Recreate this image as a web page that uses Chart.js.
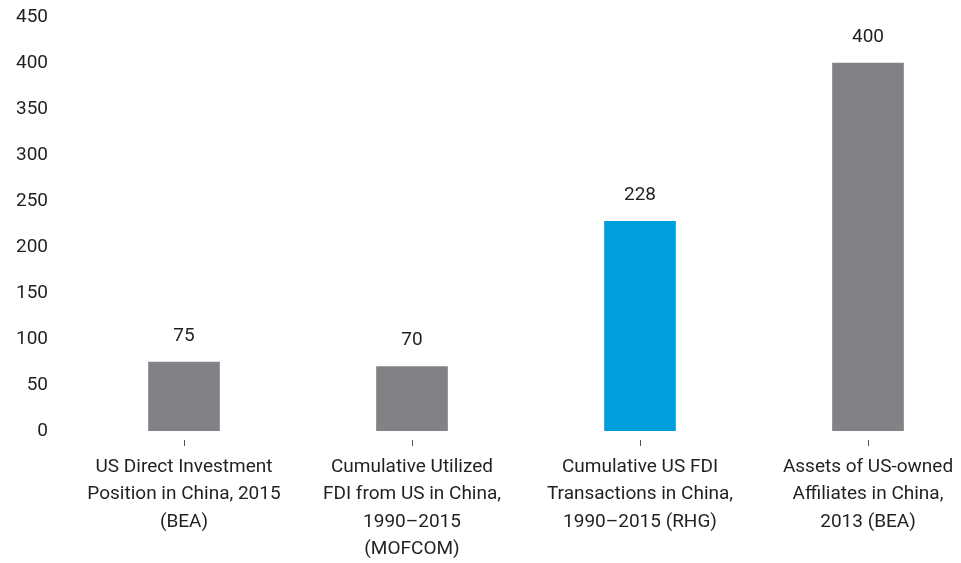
<!DOCTYPE html>
<html>
<head>
<meta charset="utf-8">
<script src="https://cdn.jsdelivr.net/npm/chart.js@4/dist/chart.umd.min.js"></script>
<style>
  html, body { margin: 0; padding: 0; background: #fff; overflow: hidden; }
  #wrap { width: 982px; height: 563px; }
</style>
</head>
<body>
<div id="wrap"><canvas id="fdiChart"></canvas></div>
<script>
// categories (multi-line labels)
const categories = [
    ["US Direct Investment", "Position in China, 2015", "(BEA)"],
    ["Cumulative Utilized", "FDI from US in China,", "1990\u20132015", "(MOFCOM)"],
    ["Cumulative US FDI", "Transactions in China,", "1990\u20132015 (RHG)"],
    ["Assets of US-owned", "Affiliates in China,", "2013 (BEA)"]
];

// values, USD billion
const values = [75, 70, 228, 400];

// y axis ticks
const yMin = 0;
const yMax = 450;
const yStep = 50;

const GRAY = "#828286";
const BLUE = "#009fdb";
const TEXT = "#231f20";
const FONT = "Roboto";

// value labels above bars
const valueLabels = {
    id: "valueLabels",
    afterDatasetsDraw(chart) {
        const ctx = chart.ctx;
        const meta = chart.getDatasetMeta(0);
        ctx.save();
        ctx.font = "19px " + FONT;
        ctx.fillStyle = TEXT;
        ctx.textAlign = "center";
        ctx.textBaseline = "middle";
        meta.data.forEach((bar, i) => {
            ctx.fillText(String(values[i]), bar.x, bar.y - 26);
        });
        ctx.restore();
    }
};

new Chart(document.getElementById("fdiChart"), {

    type: "bar",

    data: {
        labels: categories,
        datasets: [{
            data: values,
            backgroundColor: [GRAY, GRAY, BLUE, GRAY],
            barThickness: 71
        }]
    },

    options: {
        responsive: true,
        maintainAspectRatio: false,
        animation: false,
        layout: {
            padding: { top: 17, right: 0, bottom: 0, left: 0 }
        },
        plugins: {
            legend: { display: false },
            tooltip: { enabled: false }
        },
        scales: {
            x: {
                grid: {
                    display: true,
                    offset: false,
                    drawOnChartArea: false,
                    drawTicks: true,
                    tickLength: 15,
                    tickColor: "#555",
                    tickWidth: 1,
                    tickBorderDash: [0, 9, 6, 200]
                },
                border: { display: false },
                ticks: {
                    color: TEXT,
                    padding: 7,
                    font: { family: FONT, size: 19, lineHeight: 1.45 },
                    maxRotation: 0,
                    autoSkip: false
                },
                afterFit(scale) {
                    scale.height = 132;
                }
            },
            y: {
                min: yMin,
                max: yMax,
                grid: { display: false, drawTicks: false },
                border: { display: false },
                ticks: {
                    stepSize: yStep,
                    color: TEXT,
                    padding: 22,
                    font: { family: FONT, size: 19 }
                },
                afterFit(scale) {
                    scale.width = 70;
                    scale.paddingTop = 0;
                    scale.paddingBottom = 0;
                }
            }
        }
    },

    plugins: [valueLabels]

});
</script>
</body>
</html>
